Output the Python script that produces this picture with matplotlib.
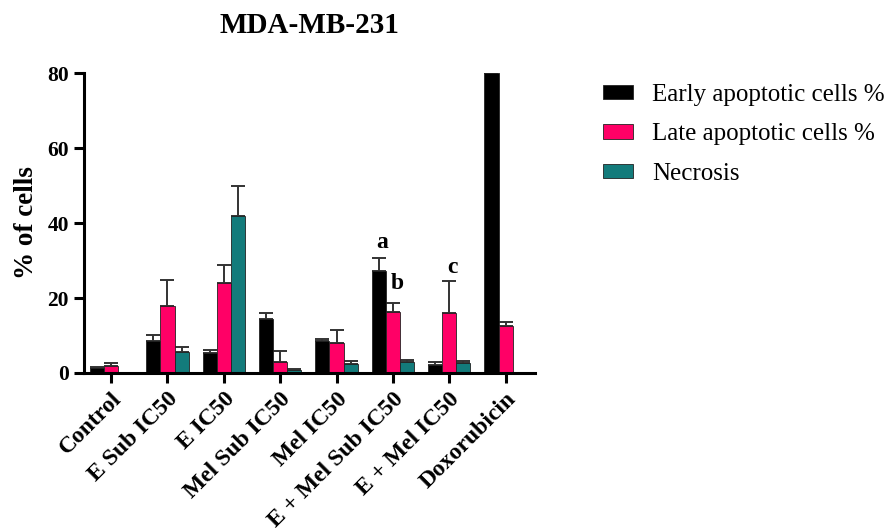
import matplotlib.pyplot as plt
import numpy as np

plt.rcParams['font.family'] = ['Liberation Serif', 'DejaVu Serif']

groups = ["Control", "E Sub IC50", "E IC50", "Mel Sub IC50", "Mel IC50",
          "E + Mel Sub IC50", "E + Mel IC50", "Doxorubicin"]
series_names = ["Early apoptotic cells %", "Late apoptotic cells %", "Necrosis"]

early = [1.2, 8.6, 5.2, 14.4, 8.4, 27.2, 2.1, 80.0]
early_err = [0.3, 1.4, 1.0, 1.5, 0.6, 3.6, 0.8, 0.0]
late = [1.9, 18.0, 24.0, 3.0, 8.1, 16.3, 15.9, 12.4]
late_err = [0.8, 6.7, 4.9, 2.8, 3.4, 2.5, 8.6, 1.3]
necrosis = [0.1, 5.6, 42.0, 0.9, 2.4, 2.85, 2.7, 0.0]
necrosis_err = [0.0, 1.3, 7.9, 0.2, 0.8, 0.6, 0.5, 0.0]

# significance letters: (group index, series index, letter, dx, dy)
letters = [(5, 0, "a", 0.06, 4.1), (5, 1, "b", -0.05, 5.0), (6, 1, "c", 0.06, 3.7)]

colors = ["#000000", "#FF0066", "#137B7B"]

fig = plt.figure(figsize=(8.85, 5.28), dpi=100)
ax = fig.add_axes([0.095, 0.2936, 0.51, 0.568])

x = np.arange(len(groups))
w = 0.25
values = [early, late, necrosis]
errors = [early_err, late_err, necrosis_err]
for i, (vals, errs) in enumerate(zip(values, errors)):
    ax.bar(x + (i - 1) * w, vals, w, color=colors[i], edgecolor="#222222",
           linewidth=0.6, label=series_names[i], zorder=2)
    ax.errorbar(x + (i - 1) * w, vals, yerr=[np.zeros(len(errs)), errs],
                fmt="none", ecolor="#333333", elinewidth=1.4, capsize=5,
                capthick=1.4, zorder=1)

for gi, si, letter, dx, dy in letters:
    top = values[si][gi] + errors[si][gi]
    xpos = x[gi] + (si - 1) * w + dx
    if letter == "b":
        # "b" sits in the gap to the right of the black bar
        xpos = x[gi] + w / 2 + dx
    ax.text(xpos, top + dy, letter, ha="center", va="center", fontsize=17,
            fontweight="bold")

ax.set_xlim(-0.48, 7.53)
ax.set_ylim(0, 80)
ax.set_yticks([0, 20, 40, 60, 80])
ax.set_xticks(x)
ax.set_xticklabels(groups, rotation=45, ha="right", rotation_mode="anchor",
                   fontsize=17, fontweight="bold")
for lab in ax.get_yticklabels():
    lab.set_fontweight("bold")
    lab.set_fontsize(15.5)
ax.spines["top"].set_visible(False)
ax.spines["right"].set_visible(False)
ax.spines["left"].set_linewidth(2.2)
ax.spines["bottom"].set_linewidth(2.2)
ax.tick_params(axis="both", width=2.2, length=7.5)
ax.set_ylabel("% of cells", fontsize=19.5, fontweight="bold", labelpad=6)
ax.set_title("MDA-MB-231", fontsize=21, fontweight="bold", pad=28.5,
             x=0.5)

ax.legend(loc="upper left", bbox_to_anchor=(1.10, 1.04), frameon=False,
          fontsize=18, handlelength=1.2, handleheight=0.5,
          handletextpad=0.75, labelspacing=0.71)

fig.savefig("out.png", dpi=100)
